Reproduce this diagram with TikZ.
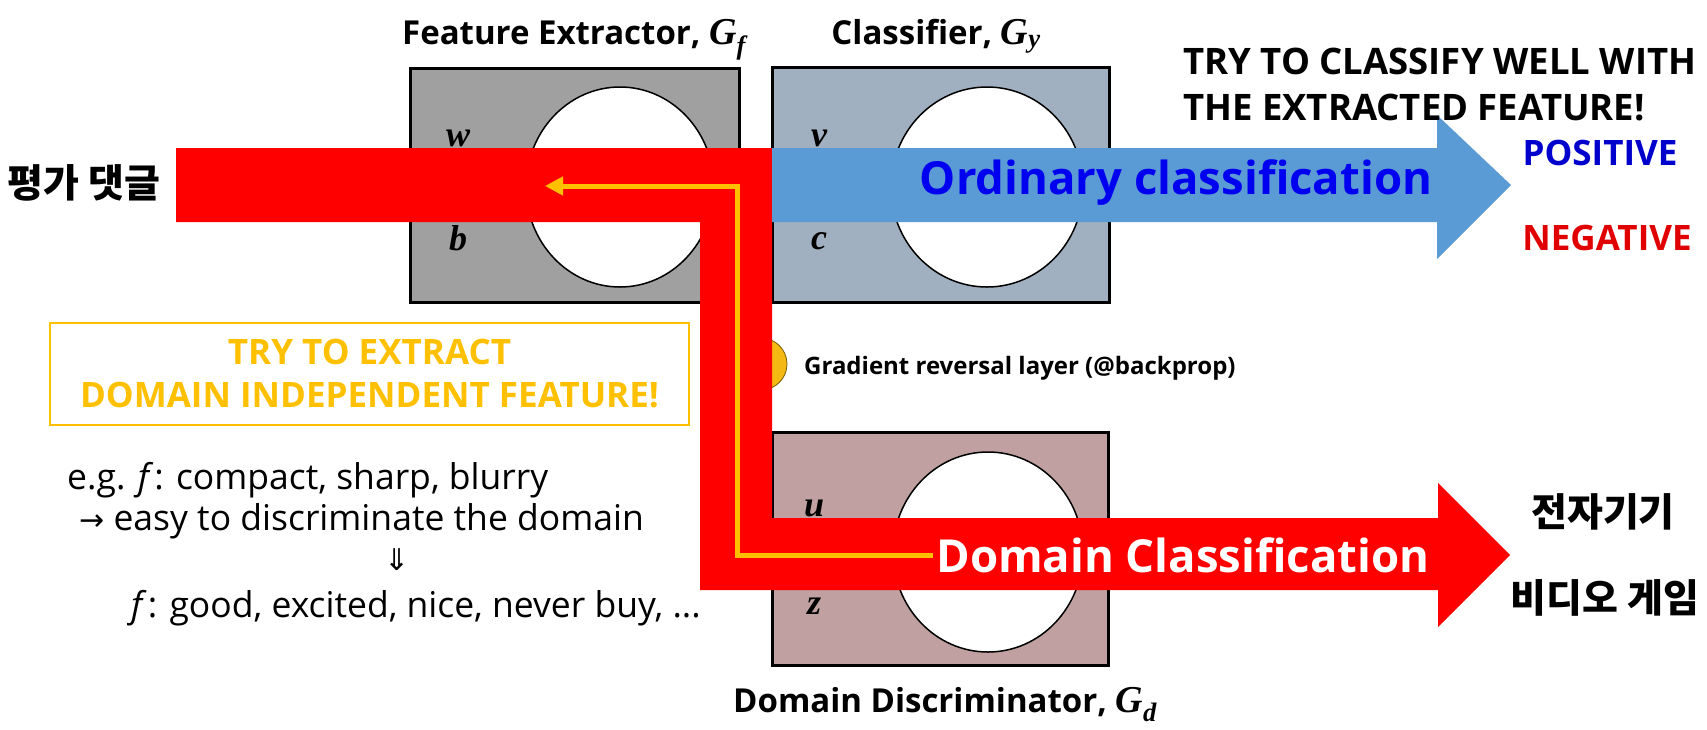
\documentclass[tikz,border=0pt]{standalone}
\usepackage{fontspec}
\setmainfont{Open Sans}
\newfontfamily\kofont{Noto Sans CJK KR}
\newfontfamily\symfont{DejaVu Sans}
\newfontfamily\varfont{Liberation Serif}
\usetikzlibrary{shapes.geometric,arrows.meta}
\definecolor{fegray}{RGB}{160,160,160}
\definecolor{clgray}{RGB}{161,176,192}
\definecolor{ddmauve}{RGB}{192,160,160}
\definecolor{arrowblue}{RGB}{91,155,213}
\definecolor{txtblue}{RGB}{0,0,240}
\definecolor{posblue}{RGB}{0,0,205}
\definecolor{negred}{RGB}{225,0,0}
\definecolor{gold}{RGB}{255,192,0}
\definecolor{grlfill}{RGB}{245,185,20}
\definecolor{grldraw}{RGB}{120,90,0}
\definecolor{pathred}{RGB}{255,0,0}
\newcommand\myfs[2]{\fontsize{#1}{#2}\selectfont}
\newcommand\vb[1]{{\varfont\bfseries\itshape #1}}
\begin{document}
\begin{tikzpicture}[x=1pt,y=-1pt,
  netbox/.style={draw=black,line width=3pt,inner sep=0pt},
  neuron/.style={ellipse,draw=black,line width=1.5pt,fill=white,inner sep=0pt},
  param/.style={font=\myfs{36}{40}},
  boxtitle/.style={font=\bfseries\myfs{33}{38},anchor=base},
  bigtxt/.style={font=\bfseries\myfs{45.5}{50},inner sep=3pt},
  kotxt/.style={font=\kofont\bfseries\myfs{39}{44}},
  note/.style={font=\myfs{35.5}{40},anchor=base west,inner sep=0pt}]
\useasboundingbox (0,0) rectangle (1707,729);
\fill[white] (0,0) rectangle (1707,729);

% boxes
\node[netbox,fill=fegray,minimum width=329pt,minimum height=234pt] (fe) at (574.5,185) {};
\node[netbox,fill=clgray,minimum width=337pt,minimum height=235pt] (cl) at (940.5,184.5) {};
\node[netbox,fill=ddmauve,minimum width=336pt,minimum height=233pt] (dd) at (940,548.5) {};
\node[neuron,minimum width=188pt,minimum height=200pt] (fee) at (620,187) {};
\node[neuron,minimum width=192pt,minimum height=200pt] (cle) at (987,187) {};
\node[neuron,minimum width=190pt,minimum height=200pt] (dde) at (988,552) {};

% parameters
\node[param] (pw) at (458,138) {\vb{w}};
\node[param] (pb) at (458,238) {\vb{b}};
\node[param] (pv) at (819,138) {\vb{v}};
\node[param] (pc) at (819,241) {\vb{c}};
\node[param] (pu) at (814,508) {\vb{u}};
\node[param] (pz) at (814,606) {\vb{z}};

% titles
\node[boxtitle] (fet) at (574,44) {Feature Extractor, \vb{\myfs{38}{40}G\textsubscript{f}}};
\node[boxtitle] (clt) at (936,44) {Classifier, \vb{\myfs{38}{40}G\textsubscript{y}}};
\node[boxtitle] (ddt) at (945,712) {Domain Discriminator, \vb{\myfs{38}{40}G\textsubscript{d}}};

% gradient reversal layer
\node[circle,fill=grlfill,draw=grldraw,line width=0.8pt,minimum size=52pt,inner sep=0pt] (grl) at (761,364) {};
\node[font=\bfseries\myfs{24}{28},anchor=west,inner sep=0pt] (grlt) at (804,368) {Gradient reversal layer (@backprop)};

% red path (input -> feature -> domain classifier)
\fill[pathred] (176,148) -- (772,148) -- (772,518) -- (1438,518) -- (1438,483)
  -- (1510,555) -- (1438,627) -- (1438,590) -- (700,590) -- (700,222) -- (176,222) -- cycle;
% blue arrow (ordinary classification)
\fill[arrowblue] (772,148) -- (1437,148) -- (1437,115) -- (1511,185)
  -- (1437,259) -- (1437,222) -- (772,222) -- cycle;

\node[bigtxt,text=txtblue] (oc) at (1176,183) {Ordinary classification};
\node[bigtxt,text=white] (dc) at (1183,555) {Domain Classification};

% back-propagated gradient
\coordinate (g1) at (737,555);
\coordinate (g2) at (737,186);
\coordinate (g3) at (545,186);
\draw[gold,line width=5pt,line join=miter,-{Triangle[length=18pt,width=18pt]}]
  (dc.west |- g1) -- (g1) -- (g2) -- (g3);

% right-hand labels
\node[font=\bfseries\myfs{36.5}{46},align=left,anchor=north west,inner sep=0pt] (try) at (1183,48)
  {TRY TO CLASSIFY WELL WITH\\THE EXTRACTED FEATURE!};
\node[font=\bfseries\myfs{35}{40},text=posblue] (pos) at (1600,153) {POSITIVE};
\node[font=\bfseries\myfs{35}{40},text=negred] (neg) at (1607,238) {NEGATIVE};
\node[kotxt] (ko1) at (1603,512) {전자기기};
\node[kotxt] (ko2) at (1605,598) {비디오 게임};
\node[kotxt] (ko0) at (84,183) {평가 댓글};

% yellow note box
\node[draw=gold,line width=1.5pt,minimum width=639pt,minimum height=102pt,
  font=\bfseries\myfs{35}{43},text=gold,align=center] (ybox) at (369.5,374)
  {TRY TO EXTRACT\\DOMAIN INDEPENDENT FEATURE!};

% example text
\node[note] (ex1) at (67,489) {e.g. \textit{f}\kern1pt: compact, sharp, blurry};
\node[note] (ex2) at (79,530) {{\symfont\myfs{30}{32}→} easy to discriminate the domain};
\node[font=\symfont\myfs{30}{32},inner sep=0pt] (ex3) at (397,560) {⇓};
\node[note] (ex4) at (131,617) {\textit{f}\kern1pt: good, excited, nice, never buy, ...};
\end{tikzpicture}
\end{document}
